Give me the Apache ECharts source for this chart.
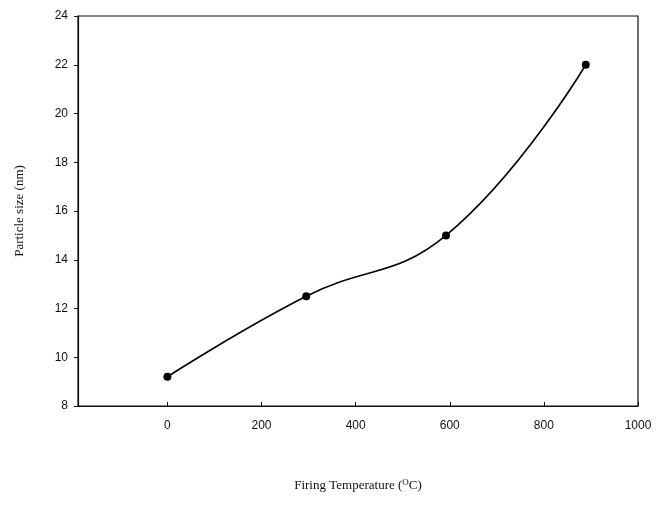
<!DOCTYPE html>
<html><head><meta charset="utf-8">
<script src="https://cdn.jsdelivr.net/npm/echarts@6/dist/echarts.min.js"></script>
<style>html,body{margin:0;padding:0;background:#fff}#c{width:661px;height:509px}</style>
</head><body><div id="c"></div>
<script>
const temperatures = [0, 295, 592, 889];
const particleSize = [9.2, 12.5, 15.0, 22.0];
const xTicks = [0, 200, 400, 600, 800, 1000];
const yTicks = [8, 10, 12, 14, 16, 18, 20, 22, 24];

const chart = echarts.init(document.getElementById('c'), null, {renderer: 'canvas'});
chart.setOption({
  animation: false,
  backgroundColor: '#fff',
  grid: {left: 78, right: 23, top: 16, bottom: 103, show: true, borderColor: '#111', borderWidth: 1.2},
  xAxis: {
    type: 'value', min: -190, max: 1000,
    name: '{a|Firing Temperature (}{s|O}{a|C)}',
    nameLocation: 'middle', nameGap: 72,
    nameTextStyle: {rich: {a: {fontFamily: 'Liberation Serif', fontSize: 13, color: '#111'}, s: {fontFamily: 'Liberation Serif', fontSize: 9, color: '#111', verticalAlign: 'top', padding: [0,0,6,0]}}},
    axisLine: {onZero: false, lineStyle: {color: '#111', width: 1.2}},
    axisTick: {inside: true, length: 4, customValues: xTicks, lineStyle: {color: '#111'}},
    axisLabel: {customValues: xTicks, formatter: v => String(v), fontFamily: 'Liberation Sans', fontSize: 12, color: '#111', margin: 14},
    splitLine: {show: false}
  },
  yAxis: {
    type: 'value', min: 8, max: 24, interval: 2,
    name: 'Particle size (nm)', nameLocation: 'middle', nameGap: 52,
    nameTextStyle: {fontFamily: 'Liberation Serif', fontSize: 13, color: '#111'},
    axisLine: {show: true, onZero: false, lineStyle: {color: '#111', width: 1.2}},
    axisTick: {show: true, length: 4, lineStyle: {color: '#111'}},
    axisLabel: {fontFamily: 'Liberation Sans', fontSize: 12, color: '#111', margin: 10},
    splitLine: {show: false}
  },
  series: [{
    type: 'line',
    data: temperatures.map((t, i) => [t, particleSize[i]]),
    smooth: 0.45,
    symbol: 'circle', symbolSize: 8,
    itemStyle: {color: '#000'},
    lineStyle: {color: '#000', width: 1.6}
  }]
});
</script></body></html>
